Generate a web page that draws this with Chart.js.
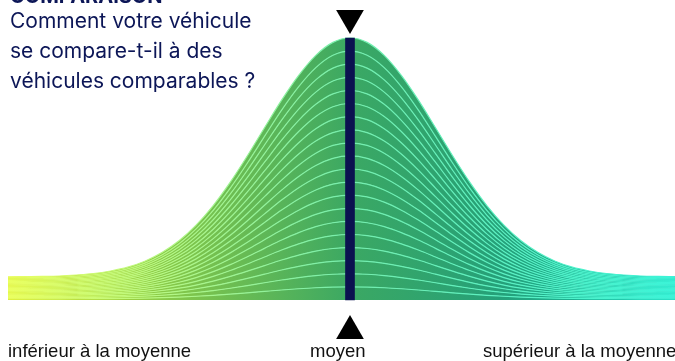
<!DOCTYPE html>
<html>
<head>
<meta charset="utf-8">
<script src="https://cdn.jsdelivr.net/npm/chart.js@4/dist/chart.umd.min.js"></script>
<style>
  html, body { margin: 0; padding: 0; background: #fff; overflow: hidden; }
  #wrap { position: relative; width: 675px; height: 361px; overflow: hidden; }
  #wrap canvas { position: absolute; left: 0; top: 0; }
  .title { position: absolute; left: 10px; font-family: Inter, sans-serif; color: #0c1657; white-space: nowrap; }
  #kicker { top: -16px; font-size: 20px; font-weight: 700; line-height: 24px; }
  #question { top: 6px; font-size: 21px; line-height: 30px; }
  .foot { position: absolute; top: 340px; font-family: "Liberation Sans", Arial, sans-serif; font-size: 18.5px; color: #111; white-space: nowrap; }
</style>
</head>
<body>
<div id="wrap">
  <canvas id="bell" width="675" height="361"></canvas>
  <div class="title" id="kicker">COMPARAISON</div>
  <div class="title" id="question">Comment votre véhicule<br>se compare-t-il à des<br>véhicules comparables ?</div>
  <div class="foot" style="left:8px">inférieur à la moyenne</div>
  <div class="foot" style="left:310px">moyen</div>
  <div class="foot" style="left:483px">supérieur à la moyenne</div>
</div>
<script>
// position along the scale, -1 = far below average, 0 = average, 1 = far above
const positions = [
    -1, -0.95, -0.9, -0.85, -0.8, -0.75, -0.7, -0.65, -0.6, -0.55, -0.5,
    -0.45, -0.4, -0.35, -0.3, -0.25, -0.2, -0.15, -0.1, -0.05, 0,
    0.05, 0.1, 0.15, 0.2, 0.25, 0.3, 0.35, 0.4, 0.45, 0.5,
    0.55, 0.6, 0.65, 0.7, 0.75, 0.8, 0.85, 0.9, 0.95, 1
];
// thickness of one band of the bell at each position
const bandHeights = [
    1.16, 1.17, 1.18, 1.20, 1.25, 1.32, 1.45, 1.64, 1.94, 2.37, 2.96,
    3.74, 4.72, 5.89, 7.21, 8.61, 9.99, 11.23, 12.23, 12.88, 13.1,
    12.88, 12.23, 11.23, 9.99, 8.61, 7.21, 5.89, 4.72, 3.74, 2.96,
    2.37, 1.94, 1.64, 1.45, 1.32, 1.25, 1.20, 1.18, 1.17, 1.16
];
const bandCount = 20;
const averagePosition = 0;
const averageHeight = 262;
const markerValues = [282, -31];

function bandFill(ctx) {
    const chart = ctx.chart;
    if (!chart.chartArea) return '#3aa862';
    const x = chart.scales.x;
    const g = chart.ctx.createLinearGradient(x.getPixelForValue(-1), 0, x.getPixelForValue(1), 0);
    g.addColorStop(0, '#d3e11e');
    g.addColorStop(0.22, '#8bca48');
    g.addColorStop(0.5, '#3ba863');
    g.addColorStop(0.72, '#25a079');
    g.addColorStop(0.88, '#18b89c');
    g.addColorStop(1, '#12d2b8');
    return g;
}
function bandLine(ctx) {
    const chart = ctx.chart;
    if (!chart.chartArea) return '#80f0b8';
    const x = chart.scales.x;
    const g = chart.ctx.createLinearGradient(x.getPixelForValue(-1), 0, x.getPixelForValue(1), 0);
    g.addColorStop(0, '#eaff60');
    g.addColorStop(0.5, '#74eeae');
    g.addColorStop(1, '#38f4da');
    return g;
}

const datasets = [];
for (let i = 0; i < bandCount; i++) {
    datasets.push({
        type: 'line',
        data: positions.map((p, k) => ({ x: p, y: bandHeights[k] })),
        fill: i === 0 ? 'origin' : '-1',
        backgroundColor: bandFill,
        borderColor: bandLine,
        borderWidth: 1.2,
        pointRadius: 0,
        cubicInterpolationMode: 'monotone',
        stack: 'bands'
    });
}
datasets.push({
    type: 'bar',
    data: [{ x: averagePosition, y: averageHeight }],
    backgroundColor: '#0b1150',
    barThickness: 9,
    borderWidth: 0,
    stack: 'bar',
    order: -2
});
datasets.push({
    type: 'scatter',
    data: markerValues.map(v => ({ x: averagePosition, y: v })),
    pointStyle: 'triangle',
    pointRadius: 16,
    pointRotation: ctx => ctx.dataIndex === 0 ? 180 : 0,
    backgroundColor: '#000',
    borderWidth: 0,
    stack: 'markers',
    order: -1
});

const config = {
    type: 'line',
    data: { datasets: datasets },
    options: {
        responsive: false,
        animation: false,
        layout: { padding: 0, autoPadding: false },
        plugins: {
            legend: { display: false },
            tooltip: { enabled: false }
        },
        scales: {
            x: {
                type: 'linear',
                display: false,
                offset: false,
                min: -1 - 8 / 342,
                max: -1 - 8 / 342 + 675 / 342
            },
            y: {
                display: false,
                stacked: true,
                min: -61,
                max: 300
            }
        }
    }
};

window.addEventListener('load', function () {
    new Chart(document.getElementById('bell'), config);
});
</script>
</body>
</html>
